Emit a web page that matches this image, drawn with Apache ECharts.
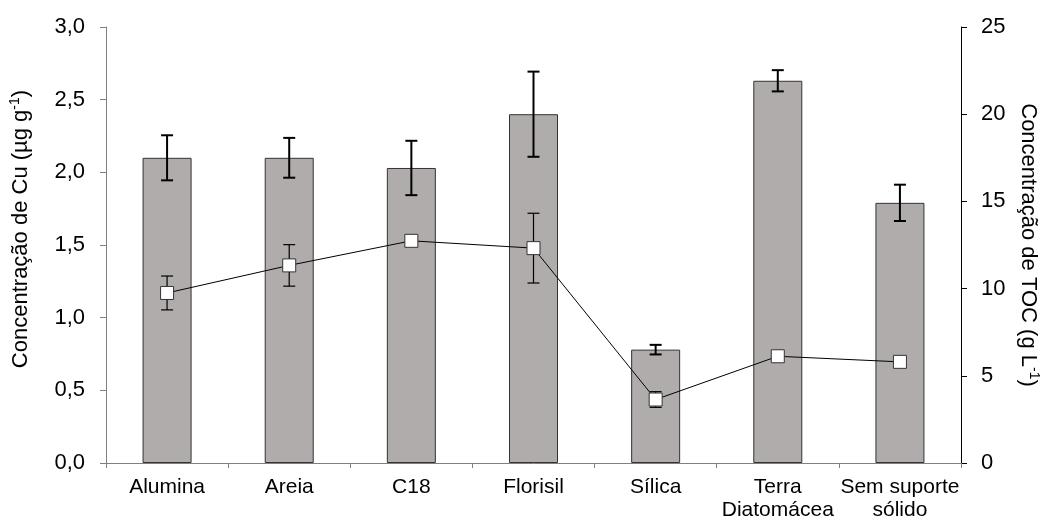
<!DOCTYPE html>
<html>
<head>
<meta charset="utf-8">
<script src="https://cdn.jsdelivr.net/npm/echarts@6/dist/echarts.min.js"></script>
<style>
  html, body { margin: 0; padding: 0; background: #fff; }
  #chart { width: 1051px; height: 522px; }
</style>
</head>
<body>
<div id="chart"></div>
<script>
// Supports tested
const categories = ['Alumina', 'Areia', 'C18', 'Florisil', 'Sílica', 'Terra\nDiatomácea', 'Sem suporte\nsólido'];

// Cu concentration (µg g-1) with standard deviation
const cuValues = [2.10, 2.10, 2.03, 2.40, 0.78, 2.63, 1.79];
const cuErrors = [0.155, 0.137, 0.187, 0.293, 0.033, 0.073, 0.125];

// TOC concentration (g L-1) with standard deviation
const tocValues = [9.75, 11.33, 12.74, 12.32, 3.64, 6.12, 5.80];
const tocErrors = [0.97, 1.19, 0.30, 2.00, 0.45, 0.30, 0.30];

// Axis ranges
const cuAxis = { min: 0, max: 3, interval: 0.5 };
const tocAxis = { min: 0, max: 25, interval: 5 };

const FONT = '"Liberation Sans", Arial, sans-serif';

function errorBarRenderer(capHalf, width) {
  return function (params, api) {
    const idx = api.value(0);
    const hi = api.coord([idx, api.value(1)]);
    const lo = api.coord([idx, api.value(2)]);
    const style = { stroke: '#000', lineWidth: width, fill: null };
    return {
      type: 'group',
      children: [
        { type: 'line', shape: { x1: hi[0], y1: hi[1], x2: lo[0], y2: lo[1] }, style },
        { type: 'line', shape: { x1: hi[0] - capHalf, y1: hi[1], x2: hi[0] + capHalf, y2: hi[1] }, style },
        { type: 'line', shape: { x1: lo[0] - capHalf, y1: lo[1], x2: lo[0] + capHalf, y2: lo[1] }, style }
      ]
    };
  };
}

const cuErrorData = cuValues.map((v, i) => [i, v + cuErrors[i], v - cuErrors[i]]);
const tocErrorData = tocValues.map((v, i) => [i, v + tocErrors[i], v - tocErrors[i]]);

const chart = echarts.init(document.getElementById('chart'), null, { renderer: 'canvas' });

const titleRich = {
  a: { fontFamily: FONT, fontSize: 22, color: '#000', lineHeight: 26 },
  s: { fontFamily: FONT, fontSize: 14, color: '#000', verticalAlign: 'top', lineHeight: 26, padding: [0, 0, 8, 0] }
};

chart.setOption({
  animation: false,
  backgroundColor: '#fff',
  textStyle: { fontFamily: FONT, color: '#000' },
  grid: { left: 106, right: 90, top: 27, bottom: 58, containLabel: false },
  xAxis: {
    type: 'category',
    data: categories,
    boundaryGap: true,
    axisLine: { lineStyle: { color: '#808080', width: 1 } },
    axisTick: { show: true, length: 5, lineStyle: { color: '#808080' } },
    axisLabel: {
      color: '#000', fontFamily: FONT, fontSize: 21, margin: 13,
      lineHeight: 23, interval: 0
    },
    splitLine: { show: false }
  },
  yAxis: [
    {
      type: 'value',
      position: 'left',
      min: cuAxis.min, max: cuAxis.max, interval: cuAxis.interval,
      axisLine: { show: true, lineStyle: { color: '#808080', width: 1 } },
      axisTick: { show: true, length: 6, lineStyle: { color: '#808080' } },
      axisLabel: {
        color: '#000', fontFamily: FONT, fontSize: 22, margin: 21,
        formatter: v => v.toFixed(1).replace('.', ',')
      },
      splitLine: { show: false },
      name: '{a|Concentração de Cu (µg g}{s|-1}{a|)}',
      nameLocation: 'middle',
      nameRotate: 90,
      nameGap: 72,
      nameTextStyle: { padding: [0, 0, 0, 32], rich: titleRich }
    },
    {
      type: 'value',
      position: 'right',
      min: tocAxis.min, max: tocAxis.max, interval: tocAxis.interval,
      axisLine: { show: true, lineStyle: { color: '#000', width: 1 } },
      axisTick: { show: true, length: 6, lineStyle: { color: '#000' } },
      axisLabel: { color: '#000', fontFamily: FONT, fontSize: 22, margin: 20 },
      splitLine: { show: false },
      name: '{a|Concentração de TOC (g L}{s|-1}{a|)}',
      nameLocation: 'middle',
      nameRotate: -90,
      nameGap: 54,
      nameTextStyle: { rich: titleRich }
    }
  ],
  series: [
    {
      name: 'Cu',
      type: 'bar',
      yAxisIndex: 0,
      data: cuValues,
      barWidth: 49,
      itemStyle: { color: '#b0acab', borderColor: '#333', borderWidth: 1 },
      z: 2
    },
    {
      name: 'Cu desvio',
      type: 'custom',
      yAxisIndex: 0,
      renderItem: errorBarRenderer(6, 2),
      data: cuErrorData,
      z: 3
    },
    {
      name: 'TOC desvio',
      type: 'custom',
      yAxisIndex: 1,
      renderItem: errorBarRenderer(6, 1.2),
      data: tocErrorData,
      z: 4
    },
    {
      name: 'TOC',
      type: 'line',
      yAxisIndex: 1,
      data: tocValues,
      symbol: 'rect',
      symbolSize: 13,
      showAllSymbol: true,
      lineStyle: { color: '#000', width: 1 },
      itemStyle: { color: '#fff', borderColor: '#333', borderWidth: 1 },
      z: 5
    }
  ]
});
</script>
</body>
</html>
